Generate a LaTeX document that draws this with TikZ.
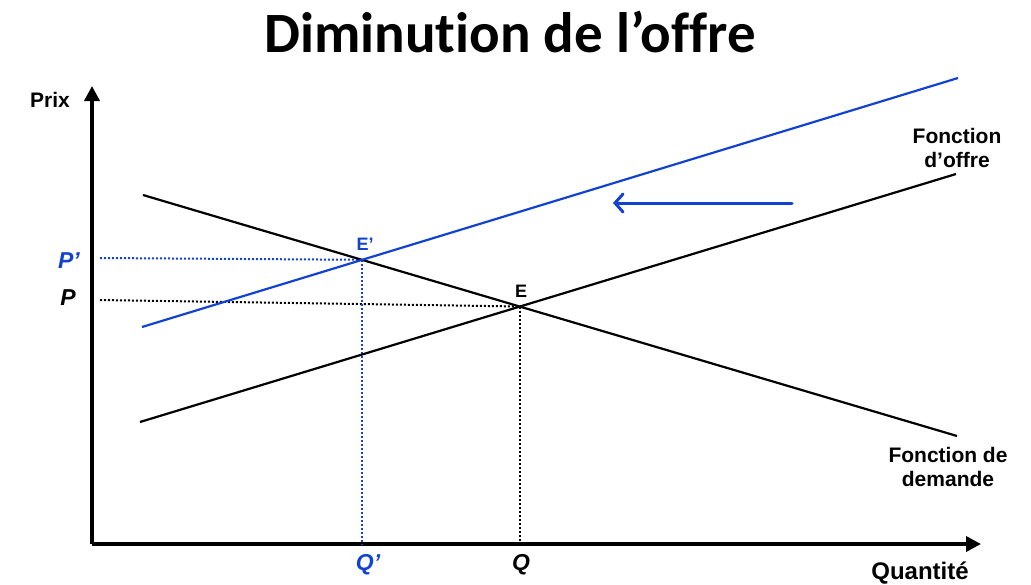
\documentclass[tikz,border=0pt]{standalone}
\usepackage{fontspec}
\setmainfont{Liberation Sans}
\newfontfamily\titlefont[Ligatures=NoCommon]{Carlito}
\usepackage{xcolor}
\usetikzlibrary{arrows.meta,positioning}
\definecolor{shiftblue}{RGB}{18,66,210}

\begin{document}
\begin{tikzpicture}[
  x=1pt,y=-1pt,
  axis/.style={line width=3.5pt,-{Triangle[length=15pt,width=15pt]}},
  curve/.style={line width=2.2pt},
  guide/.style={line width=2pt,dash pattern=on 2pt off 2pt},
  lbl/.style={font=\bfseries\fontsize{21}{24}\selectfont,align=center},
  tick/.style={font=\bfseries\itshape\fontsize{23}{26}\selectfont},
  arr/.style={line width=3pt,line cap=round,-{Straight Barb[length=8pt,width=18pt,line cap=round]}}
]
  \useasboundingbox (0,0) rectangle (1031,584);
  \node[font=\titlefont\bfseries\fontsize{57}{64}\selectfont] (title) at (510,32) {Diminution de l’offre};

  \coordinate (origin) at (92,544);
  \coordinate (ytop) at (92,86);
  \coordinate (xend) at (981,544);
  \draw[axis] (origin) -- (ytop);
  \draw[axis] (origin) -- (xend);

  \coordinate (d1) at (143,195);
  \coordinate (d2) at (957,436);
  \coordinate (s1) at (140,422);
  \coordinate (s2) at (956,174);
  \coordinate (b1) at (142,327);
  \coordinate (b2) at (958,78);
  \coordinate (E) at (520,306.5);
  \coordinate (Ep) at (362,259.8);
  \coordinate (pP) at (100,300);
  \coordinate (pPp) at (100,258);
  \coordinate (qQ) at (520,544);
  \coordinate (qQp) at (362,544);

  \draw[guide] (pP) -- (E);
  \draw[guide] (E) -- (qQ);
  \draw[guide,shiftblue] (pPp) -- (Ep);
  \draw[guide,shiftblue] (Ep) -- (qQp);

  \draw[curve] (d1) -- (d2);
  \draw[curve] (s1) -- (s2);
  \draw[curve,shiftblue] (b1) -- (b2);

  \coordinate (shiftstart) at (792,203);
  \coordinate (shiftend) at (613,203);
  \draw[arr,shiftblue] (shiftstart) -- (shiftend);

  \node[lbl] (prix) at (50,100) {Prix};
  \node[lbl,font=\bfseries\fontsize{24}{28}\selectfont] (quant) at (920,573) {Quantité};
  \node[lbl] (offre) at (957,148) {Fonction\\d’offre};
  \node[lbl] (demande) at (948,467) {Fonction de\\demande};
  \node[lbl,font=\bfseries\fontsize{18}{22}\selectfont] (Elbl) at (521,291) {E};
  \node[lbl,font=\bfseries\fontsize{18}{22}\selectfont,shiftblue] (Eplbl) at (365,244) {E’};
  \node[tick] (Plbl) at (68,298) {P};
  \node[tick,shiftblue] (Pplbl) at (69,261) {P’};
  \node[tick] (Qlbl) at (521,565) {Q};
  \node[tick,shiftblue] (Qplbl) at (368,565) {Q’};
\end{tikzpicture}
\end{document}
